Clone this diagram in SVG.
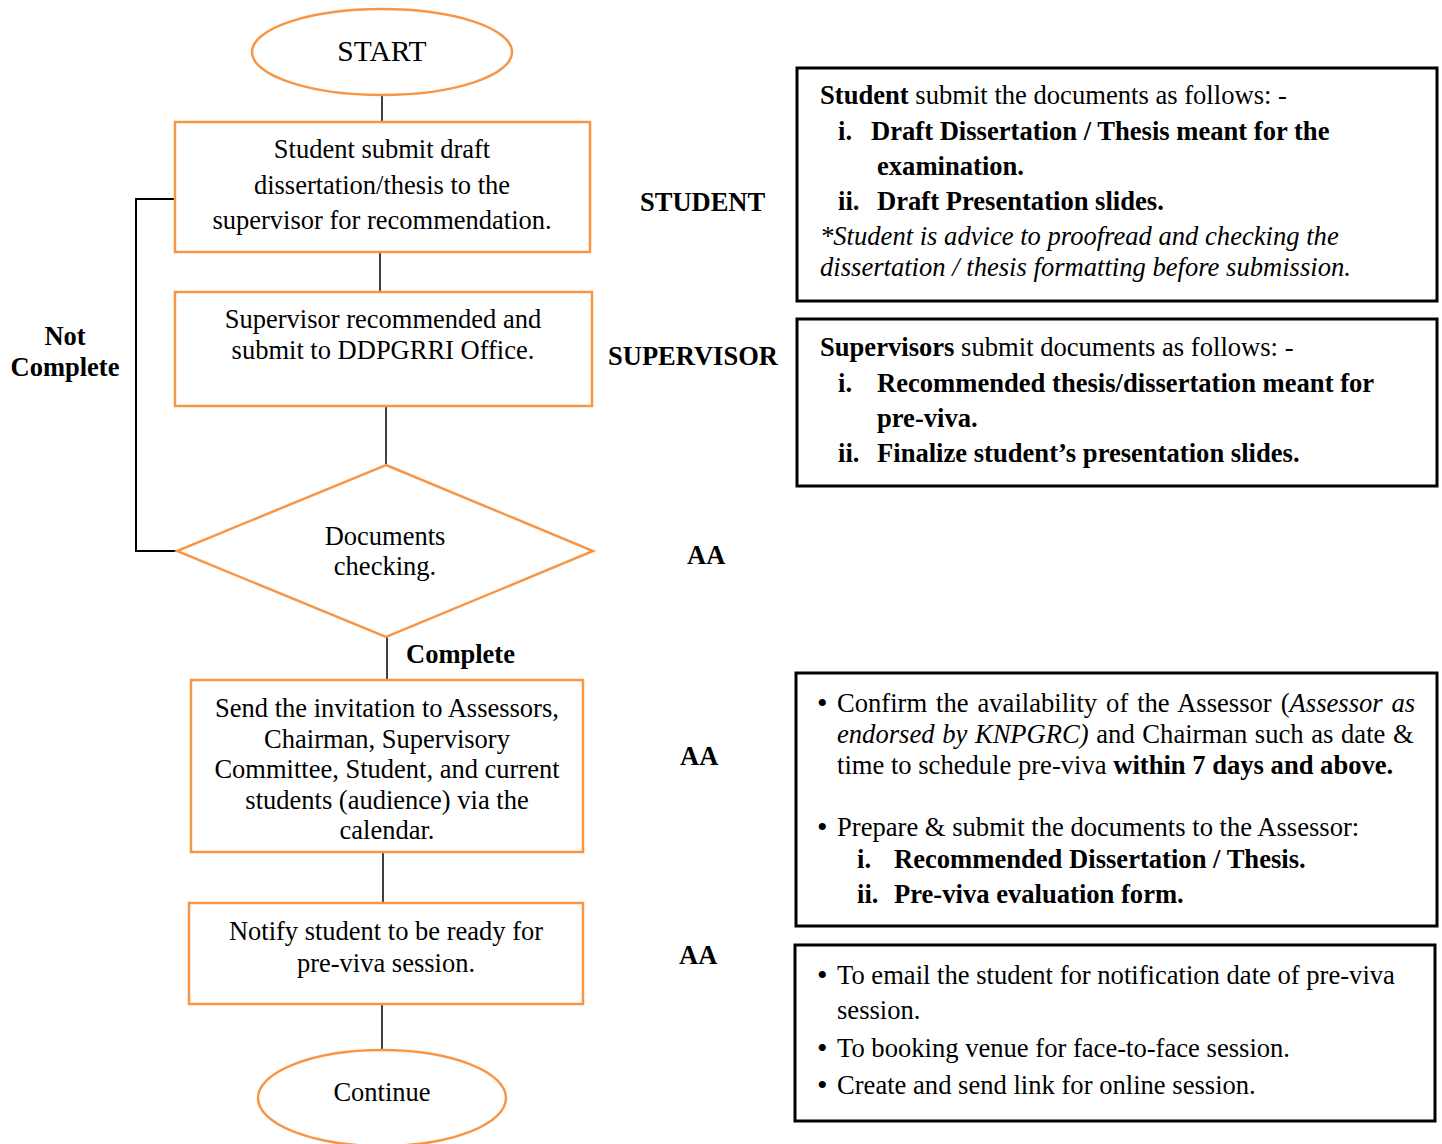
<svg xmlns="http://www.w3.org/2000/svg" width="1442" height="1144" viewBox="0 0 1442 1144">
<style>
text{font-family:"Liberation Serif","Times New Roman",serif;fill:#000}
.n{font-size:26.5px;text-anchor:middle}
.r{font-size:26.6px}
.d{font-size:30px}
.b{font-weight:bold}
.i{font-style:italic}
.shape{fill:#fff;stroke:#F79646;stroke-width:2.5}
.info{fill:#fff;stroke:#000;stroke-width:3}
.conn{stroke:#000;stroke-width:1.5;fill:none}
</style>
<rect width="1442" height="1144" fill="#fff"/>
<g id="connectors">
<line class="conn" x1="382" y1="96" x2="382" y2="122"/>
<line class="conn" x1="380" y1="252" x2="380" y2="292"/>
<line class="conn" x1="386" y1="406" x2="386" y2="465"/>
<line class="conn" x1="387" y1="637" x2="387" y2="680"/>
<line class="conn" x1="383" y1="852" x2="383" y2="903"/>
<line class="conn" x1="382" y1="1004" x2="382" y2="1050"/>
<polyline class="conn" style="stroke-width:2" points="175,199 136,199 136,551 177,551"/>
<text class="b" x="65" y="345" style="font-size:26.5px;text-anchor:middle">Not</text>
<text class="b" x="65" y="376" style="font-size:26.5px;text-anchor:middle">Complete</text>
<text class="b" x="406" y="663" style="font-size:26.5px">Complete</text>
</g>
<g id="start">
<ellipse class="shape" cx="382" cy="52" rx="130" ry="43"/>
<text class="n" x="382" y="61" style="font-size:29.5px">START</text>
</g>
<g id="student-submit">
<rect class="shape" x="175" y="122" width="415" height="130"/>
<text class="n" x="382" y="158">Student submit draft</text>
<text class="n" x="382" y="194">dissertation/thesis to the</text>
<text class="n" x="382" y="229">supervisor for recommendation.</text>
</g>
<g id="supervisor-recommend">
<rect class="shape" x="175" y="292" width="417" height="114"/>
<text class="n" x="383" y="328">Supervisor recommended and</text>
<text class="n" x="383" y="359">submit to DDPGRRI Office.</text>
</g>
<g id="documents-checking">
<polygon class="shape" points="386,465 593,551 386,637 177,551"/>
<text class="n" x="385" y="545">Documents</text>
<text class="n" x="385" y="575">checking.</text>
</g>
<g id="send-invitation">
<rect class="shape" x="191" y="680" width="392" height="172"/>
<text class="n" x="387" y="717">Send the invitation to Assessors,</text>
<text class="n" x="387" y="748">Chairman, Supervisory</text>
<text class="n" x="387" y="778">Committee, Student, and current</text>
<text class="n" x="387" y="809">students (audience) via the</text>
<text class="n" x="387" y="839">calendar.</text>
</g>
<g id="notify-student">
<rect class="shape" x="189" y="903" width="394" height="101"/>
<text class="n" x="386" y="940">Notify student to be ready for</text>
<text class="n" x="386" y="972">pre-viva session.</text>
</g>
<g id="continue">
<ellipse class="shape" cx="382" cy="1098" rx="124" ry="48"/>
<text class="n" x="382" y="1101">Continue</text>
</g>
<g id="role-labels">
<text class="b" x="640" y="211" style="font-size:26.5px">STUDENT</text>
<text class="b" x="608" y="365" style="font-size:26.5px">SUPERVISOR</text>
<text class="b" x="687" y="564" style="font-size:26.5px">AA</text>
<text class="b" x="680" y="765" style="font-size:26.5px">AA</text>
<text class="b" x="679" y="964" style="font-size:26.5px">AA</text>
</g>
<g id="student-docs">
<rect class="info" x="797" y="68" width="640" height="233"/>
<text class="r" x="820" y="104"><tspan class="b">Student</tspan> submit the documents as follows: -</text>
<text class="r b" x="838" y="140">i.</text>
<text class="r b" x="871" y="140">Draft Dissertation / Thesis meant for the</text>
<text class="r b" x="877" y="175">examination.</text>
<text class="r b" x="838" y="210">ii.</text>
<text class="r b" x="877" y="210">Draft Presentation slides.</text>
<text class="r i" x="820" y="245">*Student is advice to proofread and checking the</text>
<text class="r i" x="820" y="276">dissertation / thesis formatting before submission.</text>
</g>
<g id="supervisor-docs">
<rect class="info" x="797" y="319" width="640" height="167"/>
<text class="r" x="820" y="356"><tspan class="b">Supervisors</tspan> submit documents as follows: -</text>
<text class="r b" x="838" y="392">i.</text>
<text class="r b" x="877" y="392">Recommended thesis/dissertation meant for</text>
<text class="r b" x="877" y="427">pre-viva.</text>
<text class="r b" x="838" y="462">ii.</text>
<text class="r b" x="877" y="462">Finalize student’s presentation slides.</text>
</g>
<g id="aa-confirm">
<rect class="info" x="796" y="673" width="641" height="253"/>
<text class="d" x="817" y="713">•</text>
<text class="r" x="837" y="712" style="word-spacing:2.3px">Confirm the availability of the Assessor (<tspan class="i">Assessor as</tspan></text>
<text class="r" x="837" y="743" style="word-spacing:1px"><tspan class="i">endorsed by KNPGRC)</tspan> and Chairman such as date &amp;</text>
<text class="r" x="837" y="774">time to schedule pre-viva <tspan class="b">within 7 days and above.</tspan></text>
<text class="d" x="817" y="837">•</text>
<text class="r" x="837" y="836">Prepare &amp; submit the documents to the Assessor:</text>
<text class="r b" x="857" y="868">i.</text>
<text class="r b" x="894" y="868">Recommended Dissertation / Thesis.</text>
<text class="r b" x="857" y="903">ii.</text>
<text class="r b" x="894" y="903">Pre-viva evaluation form.</text>
</g>
<g id="aa-notify">
<rect class="info" x="795" y="945" width="640" height="176"/>
<text class="d" x="817" y="985">•</text>
<text class="r" x="837" y="984">To email the student for notification date of pre-viva</text>
<text class="r" x="837" y="1019">session.</text>
<text class="d" x="817" y="1058">•</text>
<text class="r" x="837" y="1057">To booking venue for face-to-face session.</text>
<text class="d" x="817" y="1095">•</text>
<text class="r" x="837" y="1094">Create and send link for online session.</text>
</g>
</svg>
